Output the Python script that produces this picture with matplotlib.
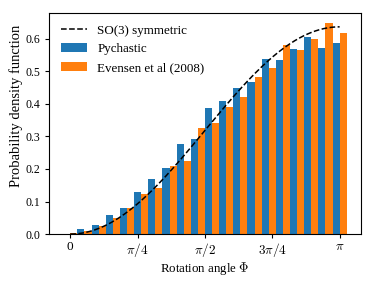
import numpy as np
import matplotlib
matplotlib.use("Agg")
import matplotlib.pyplot as plt

plt.rcParams['font.family'] = ['Liberation Serif', 'DejaVu Serif']
plt.rcParams['mathtext.fontset'] = 'cm'

# histogram values (20 angle points from 0 to pi)
pychastic = [0.0, 0.0145, 0.029, 0.058, 0.079, 0.130, 0.168, 0.204, 0.277, 0.292,
             0.386, 0.408, 0.450, 0.467, 0.539, 0.534, 0.568, 0.605, 0.572, 0.587]
evensen = [0.003, 0.008, 0.025, 0.048, 0.080, 0.123, 0.140, 0.209, 0.223, 0.325,
           0.342, 0.391, 0.420, 0.483, 0.511, 0.580, 0.564, 0.599, 0.647, 0.618]
tick_labels = ['0', r'$\pi/4$', r'$\pi/2$', r'$3\pi/4$', r'$\pi$']

angles = np.linspace(0, np.pi, len(pychastic))
width = (angles[1] - angles[0]) / 2

fig = plt.figure(figsize=(3.74, 2.81), dpi=100)
ax = fig.add_axes([0.131, 0.167, 0.834, 0.787])

phi = np.linspace(0, np.pi, 200)
ax.plot(phi, (1 - np.cos(phi)) / np.pi, 'k--', lw=1.1, label='SO(3) symmetric')
ax.bar(angles, pychastic, width=-width, align='edge', color='tab:blue', label='Pychastic')
ax.bar(angles, evensen, width=width, align='edge', color='tab:orange', label='Evensen et al (2008)')

ax.set_xticks(np.pi * np.array([0, 0.25, 0.5, 0.75, 1.0]))
ax.set_xticklabels(tick_labels)
ax.tick_params(axis='y', labelsize=8.5, length=3)
ax.tick_params(axis='x', labelsize=9.5, length=3, pad=2)
ax.set_xlabel(r'Rotation angle $\Phi$', fontsize=9.3, labelpad=1)
ax.set_ylabel('Probability density function', fontsize=10.5)
ax.yaxis.set_label_coords(-0.082, 0.58)
ax.legend(loc='upper left', frameon=False, fontsize=9.4)

fig.savefig('out.png', dpi=100)
